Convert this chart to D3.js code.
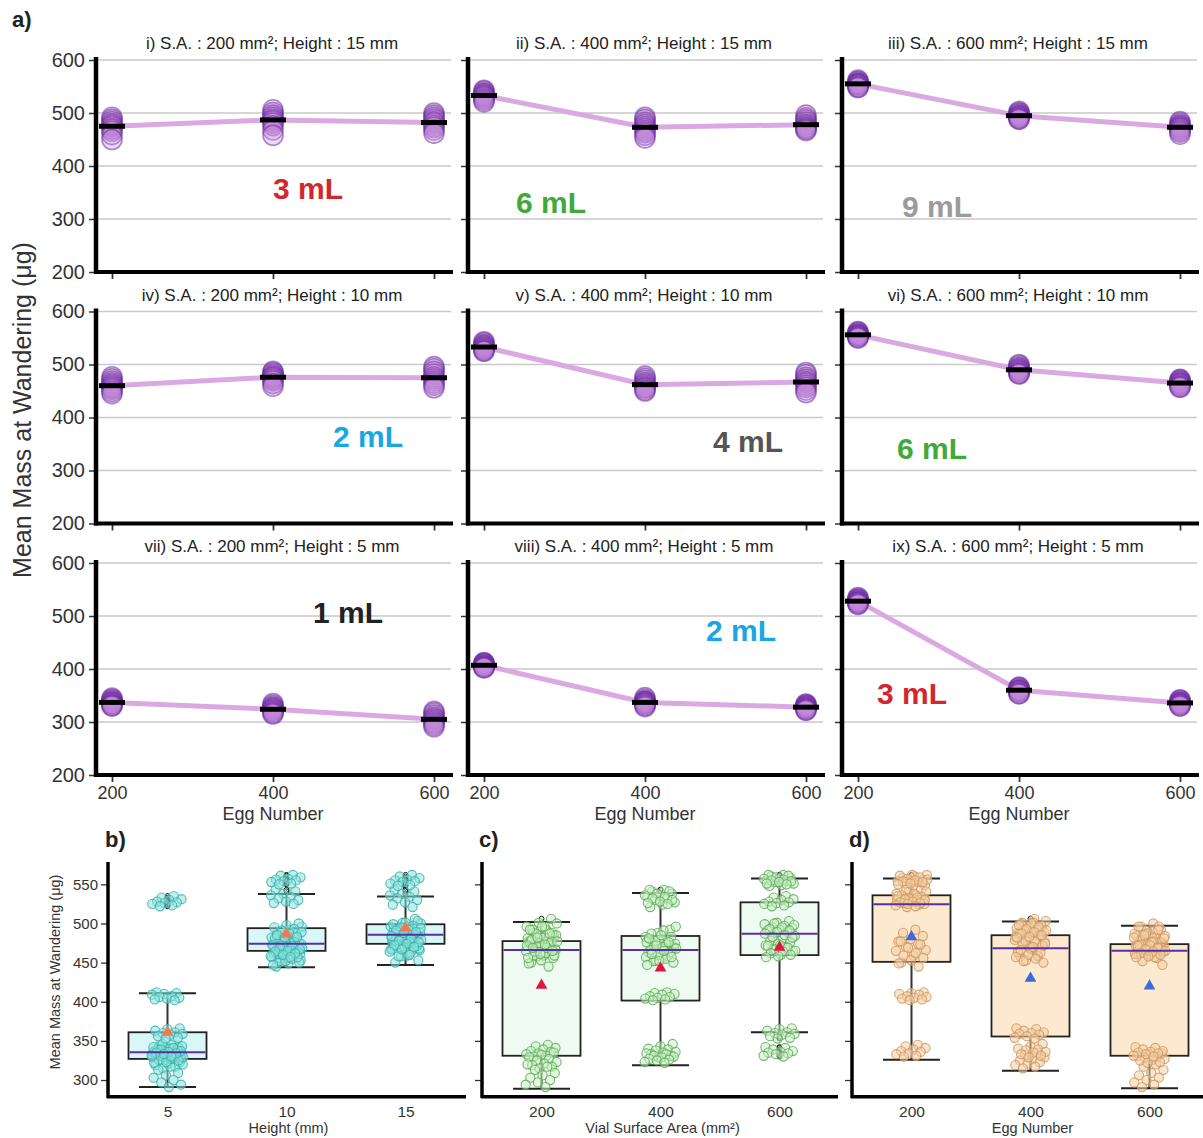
<!DOCTYPE html>
<html><head><meta charset="utf-8">
<script src="https://cdn.jsdelivr.net/npm/d3@7"></script>
<style>
body{margin:0;background:#fff;}
svg{display:block;font-family:"Liberation Sans",Arial,sans-serif;}
</style>
</head><body>
<svg id="chart" width="1203" height="1138"></svg>
<script>
// ---------------- DATA ----------------
const eggNumbers = [200, 400, 600];
const topYTicks = [200, 300, 400, 500, 600];
const panelTitles = [
  "i) S.A. : 200 mm²; Height : 15 mm", "ii) S.A. : 400 mm²; Height : 15 mm", "iii) S.A. : 600 mm²; Height : 15 mm",
  "iv) S.A. : 200 mm²; Height : 10 mm", "v) S.A. : 400 mm²; Height : 10 mm", "vi) S.A. : 600 mm²; Height : 10 mm",
  "vii) S.A. : 200 mm²; Height : 5 mm", "viii) S.A. : 400 mm²; Height : 5 mm", "ix) S.A. : 600 mm²; Height : 5 mm"
];
const volumeLabels = ["3 mL", "6 mL", "9 mL", "2 mL", "4 mL", "6 mL", "1 mL", "2 mL", "3 mL"];
const volumeColors = ["#d3272d", "#3fa93a", "#9b9b9b", "#19a6e4", "#555555", "#3fa93a", "#222222", "#19a6e4", "#d3272d"];
// means per panel at egg numbers 200/400/600
const panelMeans = [
  [475, 487, 482], [533, 473, 478], [555, 495, 473],
  [460, 476, 475], [533, 462, 467], [556, 490, 465],
  [337, 324, 305], [407, 337, 328], [528, 360, 336]
];
// replicate values per panel, per egg number
const panelPoints = [
  [[492,488,484,480,477,474,470,466,459,450],[506,501,496,492,488,485,481,476,468,458],[500,496,492,488,484,481,477,473,468,462]],
  [[543,541,538,536,534,532,530,527,524,521],[492,488,483,479,475,471,467,463,458,453],[496,491,487,483,479,476,473,471,469,467]],
  [[562,560,558,556,555,554,553,551,549,548],[503,501,499,497,495,494,492,491,489,488],[484,481,478,476,474,472,470,467,464,460]],
  [[477,473,469,465,462,459,456,453,449,445],[487,485,482,479,477,475,472,469,464,459],[496,492,487,482,477,473,469,465,461,456]],
  [[543,541,538,536,534,532,530,528,526,525],[478,474,470,466,463,460,457,455,452,450],[485,481,476,472,468,465,461,457,452,447]],
  [[562,561,559,557,556,555,554,553,551,550],[500,498,495,493,491,489,487,485,483,482],[472,471,469,467,465,464,462,460,458,457]],
  [[345,343,341,339,337,336,334,333,331,330],[335,332,329,327,325,323,321,319,317,315],[320,317,313,309,306,303,300,297,294,291]],
  [[412,411,410,409,407,406,405,404,403,402],[346,343,340,339,338,336,335,333,331,329],[334,333,331,330,329,327,326,325,323,322]],
  [[535,533,531,530,528,527,526,525,523,522],[366,365,363,361,360,359,358,356,354,353],[342,341,339,337,336,335,334,333,331,330]]
];

// bottom panels
const bottomYTicks = [300, 350, 400, 450, 500, 550];
const heightCategories = ["5", "10", "15"];
const areaCategories = ["200", "400", "600"];
const eggCategories = ["200", "400", "600"];
const heightBoxes = [
  {low: 291, q1: 327, median: 335.5, q3: 361, high: 411, mean: 361},
  {low: 444, q1: 465, median: 474, q3: 494, high: 537.6, mean: 486.5},
  {low: 446.8, q1: 474, median: 485.5, q3: 499, high: 534.6, mean: 494}
];
const areaBoxes = [
  {low: 289, q1: 331, median: 466, q3: 477.5, high: 502, mean: 421},
  {low: 319, q1: 401.5, median: 466, q3: 484, high: 539, mean: 443},
  {low: 361, q1: 459.6, median: 487, q3: 527, high: 557.6, mean: 469.5}
];
const eggBoxes = [
  {low: 326, q1: 451, median: 524.4, q3: 536, high: 557.6, mean: 483},
  {low: 312, q1: 355.6, median: 468.5, q3: 485, high: 502.6, mean: 430},
  {low: 289.5, q1: 331, median: 465, q3: 473.6, high: 497, mean: 420}
];

// ---------------- LAYOUT ----------------
const svg = d3.select("#chart");
const colAxisX = [96, 468, 842];
const rowTop = [60, 311.5, 563];
const plotH = 212;
const labelOffsets = [[212,128],[83,142],[95,146],[272,124.5],[280,129.5],[90,136.5],[252,49],[273,67],[70,130]];

svg.append("text").attr("x", 12).attr("y", 27).attr("font-size", 22).attr("font-weight", "bold").attr("fill", "#222").text("a)");
svg.append("text").attr("transform", "translate(22,410) rotate(-90)").attr("text-anchor", "middle")
  .attr("dominant-baseline", "central").attr("font-size", 25).attr("fill", "#333").text("Mean Mass at Wandering (μg)");

panelTitles.forEach((title, p) => {
  const r = Math.floor(p / 3), c = p % 3;
  const ax = colAxisX[c], top = rowTop[r];
  const g = svg.append("g");
  const y = d3.scaleLinear().domain([200, 600]).range([top + plotH, top]);
  const x = d3.scaleLinear().domain([200, 600]).range([ax + 16, ax + 338]);

  // gridlines
  g.selectAll(".grid").data(topYTicks.slice(1)).join("line")
    .attr("x1", ax + 2).attr("x2", ax + 355).attr("y1", d => y(d)).attr("y2", d => y(d))
    .attr("stroke", "#c9c9c9").attr("stroke-width", 1.3);

  // y axis
  const ya = g.append("g").attr("transform", `translate(${ax},0)`)
    .call(d3.axisLeft(y).tickValues(topYTicks).tickSize(7).tickFormat(c === 0 ? d3.format("d") : () => ""));
  ya.select(".domain").remove();
  ya.selectAll(".tick line").attr("stroke", "#333").attr("stroke-width", 1.5);
  ya.selectAll(".tick text").attr("font-size", 20).attr("fill", "#333").attr("x", -11)
    .attr("font-family", "Liberation Sans, Arial, sans-serif");
  g.append("line").attr("x1", ax).attr("x2", ax).attr("y1", top - 3).attr("y2", top + plotH + 2)
    .attr("stroke", "#000").attr("stroke-width", 4.5);

  // x axis
  const xa = g.append("g").attr("transform", `translate(0,${top + plotH})`)
    .call(d3.axisBottom(x).tickValues(eggNumbers).tickSize(7).tickFormat(r === 2 ? d3.format("d") : () => ""));
  xa.select(".domain").remove();
  xa.selectAll(".tick line").attr("stroke", "#333").attr("stroke-width", 1.8);
  xa.selectAll(".tick text").attr("font-size", 18).attr("fill", "#333").attr("y", 11)
    .attr("font-family", "Liberation Sans, Arial, sans-serif");
  g.append("line").attr("x1", ax - 2).attr("x2", ax + 357).attr("y1", top + plotH).attr("y2", top + plotH)
    .attr("stroke", "#000").attr("stroke-width", 4);
  if (r === 2) {
    g.append("text").attr("x", x(400)).attr("y", top + plotH + 45).attr("text-anchor", "middle")
      .attr("font-size", 18).attr("fill", "#333").text("Egg Number");
  }

  // title
  g.append("text").attr("x", ax + 176).attr("y", top - 11).attr("text-anchor", "middle")
    .attr("font-size", 17).attr("fill", "#222").text(title);

  // mean line
  const means = panelMeans[p];
  g.append("path").datum(eggNumbers.map((e, i) => [e, means[i]]))
    .attr("d", d3.line().x(d => x(d[0])).y(d => y(d[1])))
    .attr("fill", "none").attr("stroke", "#dba9e2").attr("stroke-width", 5);

  // points
  const pts = [];
  panelPoints[p].forEach((arr, i) => arr.forEach(v => pts.push([eggNumbers[i], v])));
  g.selectAll(".pt").data(pts).join("circle")
    .attr("cx", d => x(d[0])).attr("cy", d => y(d[1])).attr("r", 10)
    .attr("fill", "#c488da").attr("fill-opacity", 0.3)
    .attr("stroke", "#6c2aa0").attr("stroke-opacity", 0.55).attr("stroke-width", 1.6);

  // mean bars
  g.selectAll(".mb").data(eggNumbers.map((e, i) => [e, means[i]])).join("line")
    .attr("x1", d => x(d[0]) - 13).attr("x2", d => x(d[0]) + 13)
    .attr("y1", d => y(d[1])).attr("y2", d => y(d[1]))
    .attr("stroke", "#000").attr("stroke-width", 5);

  // volume label
  g.append("text").attr("x", ax + labelOffsets[p][0]).attr("y", top + labelOffsets[p][1])
    .attr("text-anchor", "middle").attr("dominant-baseline", "central")
    .attr("font-size", 30).attr("font-weight", "bold").attr("fill", volumeColors[p]).text(volumeLabels[p]);
});

// ---------------- BOTTOM PANELS ----------------
const bY = d3.scaleLinear().domain([278.7, 574.7]).range([1096.7, 865]);
const heightRows = [2, 1, 0]; // 5 mm -> row 2, 10 -> row1, 15 -> row0
const heightPoints = heightRows.map(r => d3.merge([0,1,2].map(c => d3.merge(panelPoints[r * 3 + c]))));
const areaPoints = [0,1,2].map(c => d3.merge([0,1,2].map(r => d3.merge(panelPoints[r * 3 + c]))));
const eggPoints = [0,1,2].map(e => d3.merge(panelPoints.map(pp => pp[e])));

const bottomPanels = [
  {letter: "b)", ax: 108, xEnd: 466, cats: heightCategories, boxes: heightBoxes, points: heightPoints,
   title: "Height (mm)", boxFill: "#d9f6f8", ptFill: "#8fe1dc", ptStroke: "#34b2ab", meanColor: "#f2784f", labels: true},
  {letter: "c)", ax: 482, xEnd: 838, cats: areaCategories, boxes: areaBoxes, points: areaPoints,
   title: "Vial Surface Area (mm²)", boxFill: "#eefaf2", ptFill: "#cdeec8", ptStroke: "#58ad55", meanColor: "#df173c", labels: false},
  {letter: "d)", ax: 852, xEnd: 1203, cats: eggCategories, boxes: eggBoxes, points: eggPoints,
   title: "Egg Number", boxFill: "#fde9cf", ptFill: "#f3cfa6", ptStroke: "#d09760", meanColor: "#3a6bdc", labels: false}
];

svg.append("text").attr("transform", "translate(55,972) rotate(-90)").attr("text-anchor", "middle")
  .attr("dominant-baseline", "central").attr("font-size", 14.5).attr("fill", "#333").text("Mean Mass at Wandering (μg)");

bottomPanels.forEach(P => {
  const g = svg.append("g");
  const x = d3.scalePoint().domain(P.cats).range([P.ax + 59.5, P.ax + 297.5]);
  g.append("text").attr("x", P.ax - 3).attr("y", 847).attr("font-size", 22).attr("font-weight", "bold").attr("fill", "#222").text(P.letter);

  const ya = g.append("g").attr("transform", `translate(${P.ax},0)`)
    .call(d3.axisLeft(bY).tickValues(bottomYTicks).tickSize(7).tickFormat(P.labels ? d3.format("d") : () => ""));
  ya.select(".domain").remove();
  ya.selectAll(".tick line").attr("stroke", "#333").attr("stroke-width", 1.3);
  ya.selectAll(".tick text").attr("font-size", 15).attr("fill", "#333").attr("x", -10)
    .attr("font-family", "Liberation Sans, Arial, sans-serif");
  g.append("line").attr("x1", P.ax).attr("x2", P.ax).attr("y1", 862).attr("y2", 1098)
    .attr("stroke", "#000").attr("stroke-width", 3.5);
  g.append("line").attr("x1", P.ax - 1).attr("x2", P.xEnd).attr("y1", 1096.7).attr("y2", 1096.7)
    .attr("stroke", "#000").attr("stroke-width", 3.5);

  const xa = g.append("g").attr("transform", "translate(0,1096.7)").call(d3.axisBottom(x).tickSize(0));
  xa.select(".domain").remove();
  xa.selectAll(".tick text").attr("font-size", 15.5).attr("fill", "#333").attr("y", 9)
    .attr("font-family", "Liberation Sans, Arial, sans-serif");
  g.append("text").attr("x", x(P.cats[1]) + 2).attr("y", 1133).attr("text-anchor", "middle")
    .attr("font-size", 14.5).attr("fill", "#333").text(P.title);

  P.cats.forEach((cat, i) => {
    const b = P.boxes[i], cx = x(cat);
    // whiskers
    g.append("line").attr("x1", cx).attr("x2", cx).attr("y1", bY(b.low)).attr("y2", bY(b.q1)).attr("stroke", "#333").attr("stroke-width", 2);
    g.append("line").attr("x1", cx).attr("x2", cx).attr("y1", bY(b.q3)).attr("y2", bY(b.high)).attr("stroke", "#333").attr("stroke-width", 2);
    [b.low, b.high].forEach(v => g.append("line").attr("x1", cx - 28.5).attr("x2", cx + 28.5)
      .attr("y1", bY(v)).attr("y2", bY(v)).attr("stroke", "#222").attr("stroke-width", 2));
    // box
    g.append("rect").attr("x", cx - 39).attr("width", 78).attr("y", bY(b.q3)).attr("height", bY(b.q1) - bY(b.q3))
      .attr("fill", P.boxFill).attr("stroke", "#222").attr("stroke-width", 1.8);
    // outliers
    const outs = P.points[i].filter(v => v < b.low - 3 || v > b.high + 3);
    g.selectAll(null).data(outs).join("circle").attr("cx", cx).attr("cy", v => bY(v)).attr("r", 2.5)
      .attr("fill", "none").attr("stroke", "#111").attr("stroke-width", 1);
    // jittered points
    g.selectAll(null).data(P.points[i]).join("circle")
      .attr("cx", (v, k) => cx + ((((k + 1) * 0.6180339887) % 1) - 0.5) * 32)
      .attr("cy", v => bY(v)).attr("r", 4.6)
      .attr("fill", P.ptFill).attr("fill-opacity", 0.55)
      .attr("stroke", P.ptStroke).attr("stroke-opacity", 0.85).attr("stroke-width", 1.1);
    // median
    g.append("line").attr("x1", cx - 38).attr("x2", cx + 38).attr("y1", bY(b.median)).attr("y2", bY(b.median))
      .attr("stroke", "#5a2fa3").attr("stroke-width", 2);
    // mean triangle
    g.append("path").attr("d", d3.symbol(d3.symbolTriangle, 60)())
      .attr("transform", `translate(${cx},${bY(b.mean)})`).attr("fill", P.meanColor);
  });
});
</script>
</body></html>
